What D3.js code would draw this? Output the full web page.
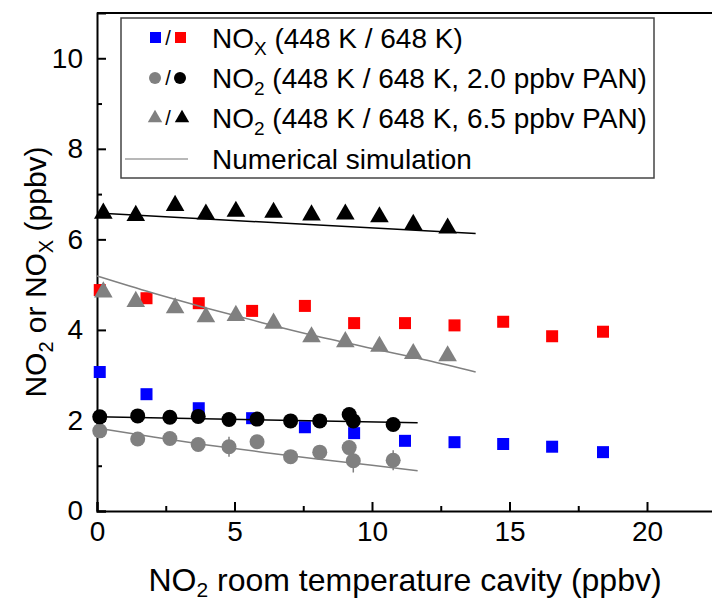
<!DOCTYPE html>
<html><head><meta charset="utf-8">
<script src="https://cdn.jsdelivr.net/npm/d3@7"></script>
<style>body{margin:0;background:#fff;} svg{display:block;font-family:"Liberation Sans",Arial,sans-serif;}</style>
</head><body>
<svg id="chart" width="712" height="603"></svg>
<script>
// ---- data ----
const xNOx = [0.1, 1.8, 3.7, 5.64, 7.56, 9.35, 11.2, 13.0, 14.77, 16.55, 18.4];
const noxBlue = [3.07, 2.58, 2.27, 2.05, 1.85, 1.72, 1.55, 1.52, 1.48, 1.42, 1.30];
const noxRed  = [4.88, 4.70, 4.59, 4.42, 4.53, 4.15, 4.15, 4.10, 4.18, 3.86, 3.96];

const xCirc = [0.1, 1.48, 2.65, 3.68, 4.8, 5.82, 7.04, 8.1, 9.17, 9.32, 10.77];
const circGray  = [1.77, 1.59, 1.60, 1.47, 1.42, 1.53, 1.20, 1.30, 1.40, 1.11, 1.12];
const circGrayErr = [0, 0, 0, 0, 0.22, 0, 0, 0, 0, 0.26, 0.22];
const circBlack = [2.08, 2.10, 2.07, 2.09, 2.02, 2.03, 1.99, 1.99, 2.13, 1.99, 1.91];

const xTri = [0.23, 1.41, 2.84, 3.96, 5.05, 6.42, 7.8, 9.03, 10.27, 11.5, 12.75];
const triGray  = [4.88, 4.67, 4.53, 4.33, 4.36, 4.19, 3.89, 3.78, 3.68, 3.52, 3.47];
const triBlack = [6.62, 6.57, 6.79, 6.60, 6.66, 6.64, 6.58, 6.60, 6.54, 6.37, 6.29];

// numerical simulation curves
const simTriBlackX = [0, 13.77];
const simTriBlackY = [6.58, 6.13];
const simTriGrayX = [0, 2, 4, 6, 8, 10, 12, 13.77];
const simTriGrayY = [5.19, 4.82, 4.48, 4.16, 3.86, 3.59, 3.33, 3.07];
const simCircBlackX = [0, 11.66];
const simCircBlackY = [2.08, 1.95];
const simCircGrayX = [0, 2, 4, 6, 8, 10, 11.66];
const simCircGrayY = [1.83, 1.64, 1.46, 1.30, 1.15, 1.01, 0.89];

const xTicks = [0, 5, 10, 15, 20];
const xMinor = [2.5, 7.5, 12.5, 17.5, 22.5];
const yTicks = [0, 2, 4, 6, 8, 10];
const yMinor = [1, 3, 5, 7, 9];

const legendRows = [
  {sym: "square", a: "#0000ff", b: "#ff0000", main: "NO", sub: "X", rest: " (448 K / 648 K)"},
  {sym: "circle", a: "#808080", b: "#000000", main: "NO", sub: "2", rest: " (448 K / 648 K, 2.0 ppbv PAN)"},
  {sym: "triangle", a: "#808080", b: "#000000", main: "NO", sub: "2", rest: " (448 K / 648 K, 6.5 ppbv PAN)"},
  {sym: "line", a: "#a0a0a0", main: "Numerical simulation"}
];

// ---- layout ----
const svg = d3.select("#chart");
const L = 97, T = 13, B = 511;
const x = d3.scaleLinear().domain([0, 22.5]).range([L, L + 27.5 * 22.5]);
const y = d3.scaleLinear().domain([0, 11]).range([B, T]);

const g = svg.append("g");
const FONT = "Liberation Sans, Arial, sans-serif";

// axes frame
g.append("line").attr("x1", L).attr("x2", 712).attr("y1", T).attr("y2", T).attr("stroke", "#000").attr("stroke-width", 2);

const xAxis = d3.axisBottom(x).tickValues(xTicks).tickSize(-9).tickFormat(d3.format("d"));
const gx = g.append("g").attr("transform", `translate(0,${B})`).call(xAxis);
gx.select(".domain").attr("stroke-width", 2);
gx.selectAll(".tick line").attr("stroke-width", 2);
gx.selectAll(".tick text").attr("font-size", 28).attr("y", 5).attr("dy", "0.9em").attr("fill", "#000")
  .style("font-family", FONT);
const gxm = g.append("g").attr("transform", `translate(0,${B})`)
  .call(d3.axisBottom(x).tickValues(xMinor).tickSize(-5).tickFormat(""));
gxm.select(".domain").remove();
gxm.selectAll(".tick line").attr("stroke-width", 2);

const yAxis = d3.axisLeft(y).tickValues(yTicks).tickSize(-9).tickFormat(d3.format("d"));
const gy = g.append("g").attr("transform", `translate(${L},0)`).call(yAxis);
gy.select(".domain").attr("stroke-width", 2);
gy.selectAll(".tick line").attr("stroke-width", 2);
gy.selectAll(".tick text").attr("font-size", 28).attr("x", -14).attr("fill", "#000")
  .style("font-family", FONT);
const gym = g.append("g").attr("transform", `translate(${L},0)`)
  .call(d3.axisLeft(y).tickValues(yMinor).tickSize(-5).tickFormat(""));
gym.select(".domain").remove();
gym.selectAll(".tick line").attr("stroke-width", 2);

// plot content
const plot = g.append("g");
const line = d3.line().x(d => x(d[0])).y(d => y(d[1])).curve(d3.curveMonotoneX);
function simLine(xs, ys, color) {
  plot.append("path").datum(xs.map((v, i) => [v, ys[i]]))
    .attr("d", line).attr("fill", "none").attr("stroke", color).attr("stroke-width", 1.5);
}

const sq = 12;
function squares(xs, ys, color) {
  plot.append("g").selectAll("rect").data(xs.map((v, i) => [v, ys[i]])).join("rect")
    .attr("x", d => x(d[0]) - sq / 2).attr("y", d => y(d[1]) - sq / 2)
    .attr("width", sq).attr("height", sq).attr("fill", color);
}
function circles(xs, ys, color, errs) {
  const data = xs.map((v, i) => [v, ys[i], errs ? errs[i] : 0]);
  plot.append("g").selectAll("line").data(data.filter(d => d[2] > 0)).join("line")
    .attr("x1", d => x(d[0])).attr("x2", d => x(d[0]))
    .attr("y1", d => y(d[1] - d[2])).attr("y2", d => y(d[1] + d[2]))
    .attr("stroke", color).attr("stroke-width", 1.5);
  plot.append("g").selectAll("circle").data(data).join("circle")
    .attr("cx", d => x(d[0])).attr("cy", d => y(d[1])).attr("r", 7.5).attr("fill", color);
}
const triSym = d3.symbol().type(d3.symbolTriangle).size(150);
function triangles(xs, ys, color) {
  plot.append("g").selectAll("path").data(xs.map((v, i) => [v, ys[i]])).join("path")
    .attr("d", triSym)
    .attr("transform", d => `translate(${x(d[0])},${y(d[1]) + 2})`).attr("fill", color);
}

squares(xNOx, noxBlue, "#0000ff");
squares(xNOx, noxRed, "#ff0000");
simLine(simTriGrayX, simTriGrayY, "#808080");
simLine(simCircGrayX, simCircGrayY, "#808080");
triangles(xTri, triGray, "#808080");
circles(xCirc, circGray, "#808080", circGrayErr);
simLine(simTriBlackX, simTriBlackY, "#000000");
simLine(simCircBlackX, simCircBlackY, "#000000");
triangles(xTri, triBlack, "#000000");
circles(xCirc, circBlack, "#000000");

// legend
const lg = svg.append("g");
lg.append("rect").attr("x", 121).attr("y", 18).attr("width", 533).attr("height", 160)
  .attr("fill", "#fff").attr("stroke", "#444").attr("stroke-width", 1.5);
const rowY = [38, 78, 118, 159];
const smallTri = d3.symbol().type(d3.symbolTriangle).size(90);
legendRows.forEach((r, i) => {
  const cy = rowY[i];
  const row = lg.append("g");
  if (r.sym === "square") {
    row.append("rect").attr("x", 150).attr("y", cy - 6).attr("width", 11).attr("height", 11).attr("fill", r.a);
    row.append("rect").attr("x", 175).attr("y", cy - 6).attr("width", 11).attr("height", 11).attr("fill", r.b);
  } else if (r.sym === "circle") {
    row.append("circle").attr("cx", 155).attr("cy", cy).attr("r", 6).attr("fill", r.a);
    row.append("circle").attr("cx", 180).attr("cy", cy).attr("r", 6).attr("fill", r.b);
  } else if (r.sym === "triangle") {
    row.append("path").attr("d", smallTri).attr("transform", `translate(155,${cy})`).attr("fill", r.a);
    row.append("path").attr("d", smallTri).attr("transform", `translate(182,${cy})`).attr("fill", r.b);
  } else {
    row.append("line").attr("x1", 125).attr("x2", 188).attr("y1", cy).attr("y2", cy)
      .attr("stroke", r.a).attr("stroke-width", 1.5);
  }
  if (r.sym !== "line") {
    row.append("text").attr("x", 168).attr("y", cy + 7).attr("text-anchor", "middle")
      .attr("font-size", 20).text("/");
  }
  const t = row.append("text").attr("x", 212).attr("y", cy + 10).attr("font-size", 28).attr("fill", "#000");
  t.append("tspan").text(r.main);
  if (r.sub) {
    t.append("tspan").attr("font-size", 19).attr("dy", 7).text(r.sub);
    t.append("tspan").attr("dy", -7).text(r.rest);
  }
});

// axis titles
const xt = svg.append("text").attr("x", 405).attr("y", 591).attr("text-anchor", "middle")
  .attr("font-size", 32).attr("fill", "#000");
xt.append("tspan").text("NO");
xt.append("tspan").attr("font-size", 21).attr("dy", 6).text("2");
xt.append("tspan").attr("dy", -6).text(" room temperature cavity (ppbv)");

const yt = svg.append("text").attr("transform", "translate(46,272) rotate(-90)").attr("text-anchor", "middle")
  .attr("font-size", 30).attr("fill", "#000");
yt.append("tspan").text("NO");
yt.append("tspan").attr("font-size", 20).attr("dy", 7).text("2");
yt.append("tspan").attr("dy", -7).text(" or NO");
yt.append("tspan").attr("font-size", 20).attr("dy", 7).text("X");
yt.append("tspan").attr("dy", -7).text(" (ppbv)");
</script>
</body></html>
